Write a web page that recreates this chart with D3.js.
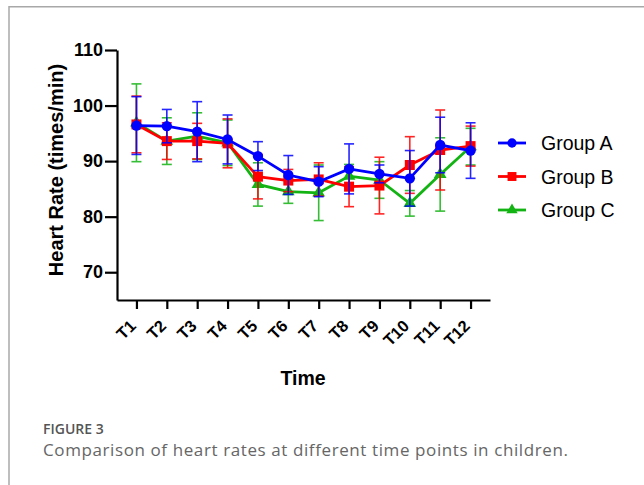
<!DOCTYPE html>
<html>
<head>
<meta charset="utf-8">
<script src="https://cdn.jsdelivr.net/npm/d3@7"></script>
<style>
  html, body { margin: 0; padding: 0; background: #fff; }
  svg { display: block; }
</style>
</head>
<body>
<svg id="chart" width="644" height="485"></svg>
<script>
const timePoints = ["T1","T2","T3","T4","T5","T6","T7","T8","T9","T10","T11","T12"];
const yTicks = [70, 80, 90, 100, 110];
const groupNames = ["Group A", "Group B", "Group C"];
const groupAMean = [96.4, 96.3, 95.3, 93.9, 90.9, 87.5, 86.3, 88.6, 87.7, 86.9, 92.9, 91.9];
const groupASD   = [5.2, 3.0, 5.4, 4.4, 2.6, 3.5, 2.7, 4.5, 1.6, 5.0, 5.0, 5.0];
const groupBMean = [96.6, 93.6, 93.6, 93.2, 87.2, 86.5, 86.7, 85.4, 85.6, 89.3, 92.0, 92.7];
const groupBSD   = [5.1, 3.3, 3.2, 4.4, 4.0, 2.0, 3.0, 3.6, 5.1, 5.1, 7.2, 3.6];
const groupCMean = [96.9, 93.6, 94.5, 93.3, 85.8, 84.5, 84.3, 87.3, 86.6, 82.4, 87.6, 92.6];
const groupCSD   = [7.0, 4.2, 4.2, 4.1, 3.9, 2.1, 5.0, 2.1, 3.3, 2.3, 6.6, 3.3];

const series = [
  {name: groupNames[0], mean: groupAMean, sd: groupASD, color: "#0000ff", shape: d3.symbolCircle, size: 85},
  {name: groupNames[1], mean: groupBMean, sd: groupBSD, color: "#ff0000", shape: d3.symbolSquare, size: 100},
  {name: groupNames[2], mean: groupCMean, sd: groupCSD, color: "#12b312", shape: d3.symbolTriangle, size: 70}
];

const FONT = "'Liberation Sans', Arial, sans-serif";
const svg = d3.select("#chart");

// frame
svg.append("line").attr("x1", 9).attr("y1", 6.7).attr("x2", 644).attr("y2", 6.7)
  .attr("stroke", "#a8a8a8").attr("stroke-width", 1.5);
svg.append("line").attr("x1", 9).attr("y1", 6).attr("x2", 9).attr("y2", 485)
  .attr("stroke", "#a8a8a8").attr("stroke-width", 1.5);

const x = d3.scalePoint().domain(timePoints).range([117, 490]).padding(0.64);
const y = d3.scaleLinear().domain([65, 110]).range([300, 50]);

// y axis
const yAxis = svg.append("g").attr("transform", "translate(117,0)")
  .call(d3.axisLeft(y).tickValues(yTicks).tickSize(12).tickPadding(2).tickSizeOuter(0));
yAxis.select(".domain").attr("stroke", "#000").attr("stroke-width", 2.2);
yAxis.selectAll(".tick line").attr("stroke", "#000").attr("stroke-width", 2.2);
yAxis.selectAll(".tick text").attr("font-family", FONT)
  .attr("font-weight", "bold").attr("font-size", 18).attr("fill", "#000");

// x axis
const xAxis = svg.append("g").attr("transform", "translate(0,300)")
  .call(d3.axisBottom(x).tickSize(9).tickSizeOuter(0));
xAxis.select(".domain").attr("stroke", "#000").attr("stroke-width", 2.2);
xAxis.selectAll(".tick line").attr("stroke", "#000").attr("stroke-width", 2.2);
xAxis.selectAll(".tick text")
  .attr("font-family", FONT)
  .attr("font-weight", "bold").attr("font-size", 16.5).attr("fill", "#000")
  .attr("text-anchor", "end")
  .attr("dy", null).attr("y", 0)
  .attr("transform", "translate(0,27) rotate(-45)");

// axis titles
svg.append("text").attr("x", 303).attr("y", 385).attr("text-anchor", "middle")
  .attr("font-family", FONT).attr("font-weight", "bold")
  .attr("font-size", 19.5).text("Time");
svg.append("text").attr("transform", "translate(63,170) rotate(-90)").attr("text-anchor", "middle")
  .attr("font-family", FONT).attr("font-weight", "bold")
  .attr("font-size", 20).text("Heart Rate (times/min)");

// series: draw C, B, then A on top
const drawOrder = [2, 1, 0];
drawOrder.forEach(i => {
  const s = series[i];
  const g = svg.append("g");
  const pts = timePoints.map((t, k) => ({t, m: s.mean[k], sd: s.sd[k]}));
  const eb = g.selectAll(".eb").data(pts).enter().append("g").attr("stroke", s.color)
    .attr("stroke-width", 1.6).attr("opacity", 0.85);
  eb.append("line").attr("x1", d => x(d.t)).attr("x2", d => x(d.t))
    .attr("y1", d => y(d.m + d.sd)).attr("y2", d => y(d.m - d.sd));
  eb.append("line").attr("x1", d => x(d.t) - 5).attr("x2", d => x(d.t) + 5)
    .attr("y1", d => y(d.m + d.sd)).attr("y2", d => y(d.m + d.sd));
  eb.append("line").attr("x1", d => x(d.t) - 5).attr("x2", d => x(d.t) + 5)
    .attr("y1", d => y(d.m - d.sd)).attr("y2", d => y(d.m - d.sd));
  g.append("path").datum(pts)
    .attr("d", d3.line().x(d => x(d.t)).y(d => y(d.m)))
    .attr("fill", "none").attr("stroke", s.color).attr("stroke-width", 2.8);
  g.selectAll(".mk").data(pts).enter().append("path")
    .attr("d", d3.symbol().type(s.shape).size(s.size))
    .attr("transform", d => `translate(${x(d.t)},${y(d.m)})`)
    .attr("fill", s.color);
});

// legend
const legY = [143, 176.5, 210];
series.forEach((s, i) => {
  const g = svg.append("g").attr("transform", `translate(0,${legY[i]})`);
  g.append("line").attr("x1", 498).attr("x2", 526).attr("y1", 0).attr("y2", 0)
    .attr("stroke", s.color).attr("stroke-width", 2.8);
  g.append("path").attr("d", d3.symbol().type(s.shape).size(s.size * 0.8))
    .attr("transform", "translate(512,0)").attr("fill", s.color);
  g.append("text").attr("x", 541).attr("y", 7).attr("font-family", FONT)
    .attr("font-size", 19.5).attr("fill", "#000").text(s.name);
});

// caption
svg.append("text").attr("x", 43).attr("y", 434).attr("font-family", "'Open Sans', 'Noto Sans', sans-serif")
  .attr("font-size", 14).attr("font-weight", 600).attr("fill", "#555").text("FIGURE 3");
svg.append("text").attr("x", 43).attr("y", 456).attr("font-family", "'Open Sans', 'Noto Sans', sans-serif")
  .attr("font-size", 17).attr("letter-spacing", 0.6).attr("fill", "#666")
  .text("Comparison of heart rates at different time points in children.");
</script>
</body>
</html>
